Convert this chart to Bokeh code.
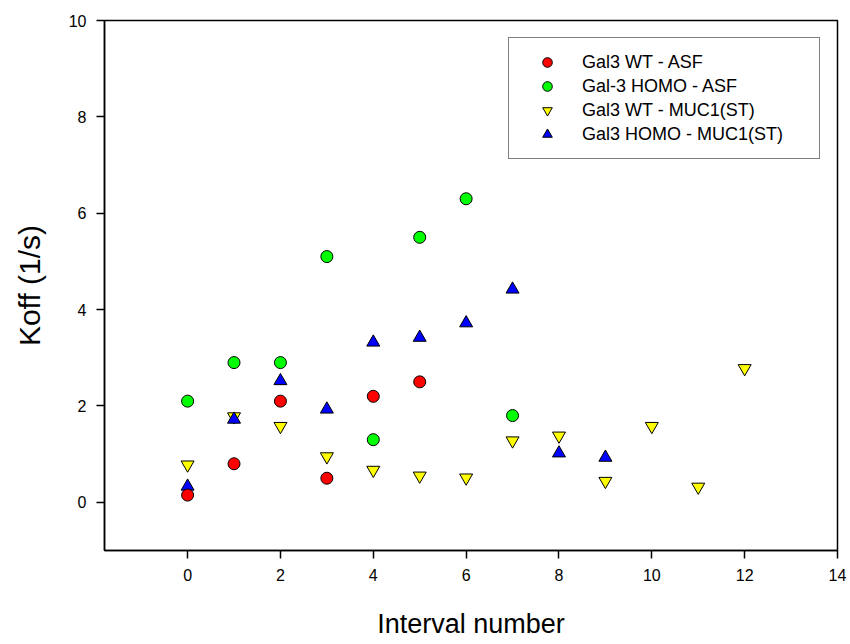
from bokeh.plotting import figure
from bokeh.models import Legend, LegendItem, FixedTicker, Range1d
from bokeh.embed import file_html
from bokeh.resources import INLINE

# Dissociation rate per interval for each protein / ligand pair
wt_asf_x = [0, 1, 2, 3, 4, 5]
wt_asf_y = [0.15, 0.8, 2.1, 0.5, 2.2, 2.5]

homo_asf_x = [0, 1, 2, 3, 4, 5, 6, 7]
homo_asf_y = [2.1, 2.9, 2.9, 5.1, 1.3, 5.5, 6.3, 1.8]

wt_muc_x = [0, 1, 2, 3, 4, 5, 6, 7, 8, 9, 10, 11, 12]
wt_muc_y = [0.78, 1.78, 1.58, 0.95, 0.67, 0.55, 0.51, 1.28, 1.38, 0.44, 1.58, 0.32, 2.78]

homo_muc_x = [0, 1, 2, 3, 4, 5, 6, 7, 8, 9]
homo_muc_y = [0.33, 1.72, 2.52, 1.93, 3.32, 3.42, 3.72, 4.42, 1.02, 0.93]

x_ticks = [0, 2, 4, 6, 8, 10, 12, 14]
y_ticks = [0, 2, 4, 6, 8, 10]

FONT = "Liberation Sans"

p = figure(
    width=850, height=644,
    x_range=Range1d(-1.79, 14), y_range=Range1d(-1, 10),
    output_backend="svg", toolbar_location=None,
    min_border_left=104, min_border_right=13,
    min_border_top=20, min_border_bottom=94,
)
p.xgrid.visible = False
p.ygrid.visible = False
p.outline_line_color = "black"
p.outline_line_width = 1.5

for ax, ticks in ((p.xaxis[0], x_ticks), (p.yaxis[0], y_ticks)):
    ax.ticker = FixedTicker(ticks=ticks)
    ax.minor_tick_line_color = None
    ax.major_tick_in = 0
    ax.major_tick_out = 8
    ax.major_tick_line_color = "black"
    ax.major_tick_line_width = 1.5
    ax.axis_line_color = "black"
    ax.axis_line_width = 1.5
    ax.major_label_text_font = FONT
    ax.major_label_text_font_size = "16px"
    ax.major_label_text_color = "black"
    ax.axis_label_text_font = FONT
    ax.axis_label_text_font_style = "normal"
    ax.axis_label_text_color = "black"

p.xaxis.axis_label = "Interval number"
p.xaxis.axis_label_text_font_size = "27px"
p.xaxis.axis_label_standoff = 25
p.xaxis.major_label_standoff = 10

p.yaxis.axis_label = "Koff (1/s)"
p.yaxis.axis_label_text_font_size = "30px"
p.yaxis.axis_label_standoff = 20
p.yaxis.major_label_standoff = 10

common = dict(line_color="black", line_width=1)
r_wt_muc = p.scatter(wt_muc_x, wt_muc_y, marker="inverted_triangle", size=13,
                     fill_color="#FFFF00", **common)
r_homo_muc = p.scatter(homo_muc_x, homo_muc_y, marker="triangle", size=13,
                       fill_color="#0000FF", **common)
r_homo_asf = p.scatter(homo_asf_x, homo_asf_y, marker="circle", size=12,
                       fill_color="#00FF00", **common)
r_wt_asf = p.scatter(wt_asf_x, wt_asf_y, marker="circle", size=12,
                     fill_color="#FF0000", **common)

legend = Legend(
    items=[
        LegendItem(label="Gal3 WT - ASF", renderers=[r_wt_asf]),
        LegendItem(label="Gal-3 HOMO - ASF", renderers=[r_homo_asf]),
        LegendItem(label="Gal3 WT - MUC1(ST)", renderers=[r_wt_muc]),
        LegendItem(label="Gal3 HOMO - MUC1(ST)", renderers=[r_homo_muc]),
    ],
    location="top_right",
    margin=17,
    padding=12,
    spacing=0,
    glyph_width=52,
    glyph_height=24,
    label_height=24,
    label_standoff=9,
    label_width=225,
    label_text_font=FONT,
    label_text_font_size="18px",
    label_text_color="black",
    border_line_color="black",
    border_line_width=1.5,
    background_fill_alpha=1,
)
p.add_layout(legend)

open("out.html", "w").write(file_html(p, INLINE))
